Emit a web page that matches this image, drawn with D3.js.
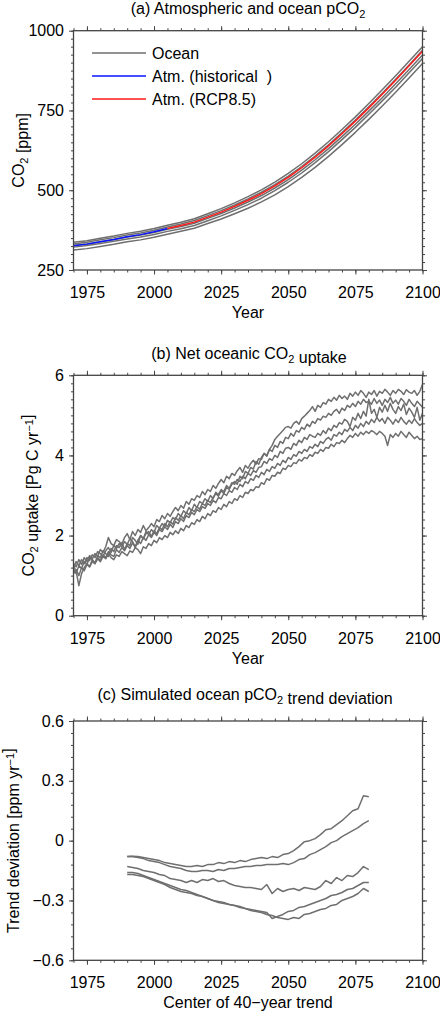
<!DOCTYPE html>
<html>
<head>
<meta charset="utf-8">
<script src="https://cdn.jsdelivr.net/npm/d3@7/dist/d3.min.js"></script>
<style>
  body { margin: 0; background: #fff; }
  svg text { font-family: "Liberation Sans", Arial, Helvetica, sans-serif; fill: #000; }
</style>
</head>
<body>
<svg id="chart" width="440" height="1013"></svg>
<script>
// ---- panel (a): atmospheric and ocean pCO2, every 5 years ----
const yearsA = d3.range(1970, 2101, 5);
const atmHistYears = [1970, 1975, 1980, 1985, 1990, 1995, 2000, 2005];
const atmHist = [325.7, 331.1, 338.7, 345.9, 354.2, 360.9, 369.7, 379.8];
const atmRcpYears = [2005, 2010, 2015, 2020, 2025, 2030, 2035, 2040, 2045, 2050,
                     2055, 2060, 2065, 2070, 2075, 2080, 2085, 2090, 2095, 2100];
const atmRcp = [379.8, 389.3, 400.1, 415.8, 431.5, 449.4, 468.5, 489.4, 513.5, 540.5,
                570.5, 603.5, 639.0, 677.1, 716.5, 758.2, 800.8, 844.8, 890.0, 935.9];
const ocean1 = [336.7, 342, 349.5, 356.5, 364.8, 371.4, 380, 390, 399.5, 410.5, 426.5, 442.5, 460.5, 480,
                501, 525.5, 553, 583, 616.5, 652, 690.5, 730, 772, 815, 859, 904, 950];
const ocean2 = [331.7, 337, 344.5, 351.5, 359.7, 366.3, 374.9, 384.8, 394.2, 404.9, 420.5, 436, 453.8, 472.8,
                493.6, 517.6, 544.5, 574.4, 607.3, 642.7, 680.7, 720, 761.6, 804, 847.8, 892.8, 938.5];
const ocean3 = [326.7, 331.6, 338.7, 345.4, 353.2, 359.4, 367.7, 377.3, 386.3, 396.6, 411.8, 427, 444.4, 463,
                483.4, 507, 533.5, 563, 595.5, 630.5, 668, 707, 748, 790, 834, 878.5, 924];
const ocean4 = [321.7, 326.6, 333.4, 340, 347.5, 353.4, 361.5, 371, 379.6, 389.7, 404.6, 419.6, 437, 455,
                475, 499, 525, 554, 586.5, 621, 658.5, 697, 738, 780, 823, 868, 913];
const ocean5 = [312.7, 317, 323.7, 330.4, 338.2, 344.4, 352.7, 362.3, 371.3, 381, 395.8, 410, 426.4, 443.5,
                463.4, 485.5, 511.5, 540, 571.5, 606, 643, 681.5, 722, 763.8, 806.8, 851.5, 897];

// ---- panel (b): net oceanic CO2 uptake, annual 1970-2100 ----
const yearsB = d3.range(1970, 2101);
const uptake1 = [
  1.20, 1.35, 1.25, 1.40, 1.30, 1.45, 1.38, 1.52, 1.45, 1.60,
  1.55, 1.48, 1.62, 1.70, 1.58, 1.75, 1.68, 1.80, 1.72, 1.85,
  1.78, 1.92, 1.85, 1.70, 1.88, 2.00, 1.92, 2.05, 2.10, 1.98,
  2.12, 2.05, 2.20, 2.15, 2.30, 2.22, 2.35, 2.28, 2.45, 2.38,
  2.50, 2.42, 2.58, 2.52, 2.65, 2.60, 2.72, 2.66, 2.80, 2.75,
  2.88, 2.82, 2.95, 3.05, 2.98, 3.12, 3.05, 3.20, 3.15, 3.28,
  3.35, 3.28, 3.48, 3.42, 3.60, 3.55, 3.70, 3.66, 3.85, 3.78,
  3.95, 4.05, 4.00, 4.15, 4.25, 4.40, 4.48, 4.55, 4.62, 4.70,
  4.72, 4.68, 4.80, 4.85, 4.78, 4.92, 4.98, 5.05, 5.12, 5.22,
  5.10, 5.25, 5.20, 5.32, 5.28, 5.40, 5.35, 5.45, 5.38, 5.50,
  5.42, 5.48, 5.40, 5.55, 5.48, 5.58, 5.50, 5.62, 5.55, 5.45,
  5.58, 5.52, 5.62, 5.48, 5.60, 5.55, 5.65, 5.58, 5.50, 5.62,
  5.55, 5.65, 5.60, 5.52, 5.64, 5.58, 5.55, 5.62, 5.50, 5.60,
  5.77];
const uptake2 = [
  1.30, 1.22, 1.40, 1.28, 1.45, 1.35, 1.50, 1.42, 1.55, 1.48,
  1.65, 1.58, 1.72, 1.95, 1.80, 1.75, 1.90, 1.85, 1.78, 1.95,
  2.05, 1.90, 2.10, 2.00, 2.15, 2.08, 2.25, 2.12, 2.20, 2.30,
  2.22, 2.40, 2.35, 2.50, 2.42, 2.55, 2.48, 2.60, 2.70, 2.62,
  2.75, 2.68, 2.85, 2.78, 2.92, 2.88, 3.00, 2.95, 3.10, 3.02,
  3.15, 3.10, 3.25, 3.18, 3.30, 3.40, 3.32, 3.48, 3.42, 3.55,
  3.50, 3.62, 3.70, 3.58, 3.75, 3.68, 3.80, 3.88, 3.78, 3.92,
  3.90, 4.05, 3.98, 4.15, 4.10, 4.25, 4.20, 4.35, 4.30, 4.45,
  4.42, 4.55, 4.48, 4.62, 4.58, 4.70, 4.65, 4.78, 4.72, 4.85,
  4.80, 4.92, 4.88, 4.98, 4.95, 5.05, 5.00, 5.10, 5.15, 5.05,
  5.18, 5.12, 5.25, 5.20, 5.30, 5.22, 5.35, 5.28, 5.40, 5.32,
  5.35, 5.28, 5.42, 5.30, 5.38, 5.25, 5.40, 5.32, 5.45, 5.30,
  5.38, 5.28, 5.42, 5.35, 5.25, 5.40, 5.30, 5.22, 5.35, 5.28,
  5.20];
const uptake3 = [
  1.15, 1.05, 1.25, 1.18, 1.35, 1.28, 1.45, 1.40, 1.30, 1.50,
  1.45, 1.62, 1.55, 1.48, 1.68, 1.60, 1.75, 1.70, 1.82, 1.65,
  1.80, 1.75, 1.95, 1.88, 1.78, 2.00, 1.92, 2.10, 2.02, 2.15,
  2.08, 2.25, 2.18, 2.30, 2.22, 2.38, 2.32, 2.45, 2.40, 2.55,
  2.48, 2.62, 2.55, 2.70, 2.62, 2.78, 2.70, 2.85, 2.80, 2.92,
  2.85, 3.00, 2.92, 3.08, 3.02, 3.15, 3.10, 3.25, 3.18, 3.32,
  3.28, 3.40, 3.35, 3.48, 3.42, 3.55, 3.50, 3.62, 3.58, 3.70,
  3.72, 3.85, 3.80, 3.92, 3.88, 4.00, 3.95, 4.10, 4.05, 4.18,
  4.20, 4.15, 4.30, 4.25, 4.38, 4.32, 4.45, 4.40, 4.52, 4.48,
  4.45, 4.55, 4.50, 4.62, 4.55, 4.68, 4.62, 4.75, 4.70, 4.82,
  4.78, 4.90, 4.85, 4.72, 4.95, 4.88, 5.05, 4.92, 5.10, 4.98,
  5.40, 5.05, 5.15, 4.95, 5.20, 5.08, 5.25, 5.10, 5.30, 5.15,
  5.05, 5.22, 5.12, 5.28, 5.02, 5.18, 5.08, 4.95, 5.20, 4.88,
  5.05];
const uptake4 = [
  1.25, 1.10, 0.75, 1.05, 1.20, 1.30, 1.22, 1.40, 1.32, 1.45,
  1.38, 1.52, 1.45, 1.60, 1.52, 1.48, 1.65, 1.58, 1.70, 1.62,
  1.75, 1.68, 1.82, 1.72, 1.88, 1.80, 1.95, 1.88, 2.02, 1.95,
  2.08, 2.00, 2.15, 2.10, 2.22, 2.15, 2.28, 2.20, 2.35, 2.30,
  2.42, 2.35, 2.50, 2.45, 2.58, 2.52, 2.65, 2.60, 2.72, 2.68,
  2.80, 2.75, 2.88, 2.82, 2.95, 2.92, 3.05, 3.00, 3.12, 3.08,
  3.20, 3.15, 3.28, 3.22, 3.35, 3.30, 3.42, 3.38, 3.50, 3.45,
  3.58, 3.52, 3.65, 3.60, 3.72, 3.68, 3.80, 3.75, 3.88, 3.82,
  3.95, 3.90, 4.02, 3.98, 4.10, 4.05, 4.15, 4.10, 4.22, 4.18,
  4.28, 4.22, 4.35, 4.30, 4.40, 4.45, 4.38, 4.52, 4.48, 4.58,
  4.52, 4.65, 4.60, 4.70, 4.62, 4.75, 4.68, 4.80, 4.72, 4.85,
  4.78, 4.90, 4.82, 4.95, 4.85, 4.92, 4.80, 4.95, 4.88, 4.78,
  4.90, 4.82, 4.95, 4.85, 4.78, 4.88, 4.80, 4.92, 4.82, 4.75,
  4.80];
const uptake5 = [
  1.05, 1.15, 1.00, 1.20, 1.12, 1.28, 1.22, 1.35, 1.30, 1.42,
  1.35, 1.48, 1.42, 1.55, 1.45, 1.40, 1.52, 1.48, 1.60, 1.55,
  1.50, 1.62, 1.58, 1.70, 1.65, 1.55, 1.72, 1.68, 1.80, 1.75,
  1.88, 1.82, 1.95, 1.90, 2.00, 1.95, 2.08, 2.02, 2.12, 2.05,
  2.18, 2.12, 2.25, 2.20, 2.32, 2.28, 2.40, 2.35, 2.48, 2.42,
  2.55, 2.50, 2.62, 2.58, 2.70, 2.65, 2.78, 2.72, 2.85, 2.80,
  2.92, 2.88, 3.00, 2.95, 3.08, 3.05, 3.15, 3.12, 3.22, 3.20,
  3.32, 3.28, 3.42, 3.38, 3.50, 3.48, 3.58, 3.55, 3.68, 3.65,
  3.75, 3.72, 3.82, 3.80, 3.90, 3.86, 3.95, 3.92, 4.02, 3.98,
  4.08, 4.05, 4.15, 4.10, 4.20, 4.18, 4.28, 4.22, 4.32, 4.30,
  4.38, 4.32, 4.42, 4.50, 4.45, 4.55, 4.48, 4.58, 4.52, 4.60,
  4.55, 4.62, 4.58, 4.52, 4.60, 4.55, 4.48, 4.25, 4.52, 4.45,
  4.55, 4.48, 4.60, 4.52, 4.45, 4.58, 4.50, 4.42, 4.48, 4.40,
  4.42];

// ---- panel (c): trend deviation, centre of 40-year trend, every 2 years ----
const yearsC = d3.range(1990, 2081, 2);
const trend1 = [-0.08, -0.078, -0.08, -0.085, -0.09, -0.095, -0.10, -0.11, -0.115, -0.12,
                -0.125, -0.13, -0.13, -0.125, -0.13, -0.12, -0.12, -0.11, -0.115, -0.105,
                -0.11, -0.10, -0.105, -0.095, -0.09, -0.085, -0.09, -0.08, -0.085, -0.07,
                -0.065, -0.05, -0.03, -0.005, 0.0, 0.01, 0.03, 0.055, 0.06, 0.08,
                0.10, 0.125, 0.15, 0.16, 0.225, 0.22];
const trend2 = [-0.08, -0.08, -0.085, -0.09, -0.10, -0.105, -0.11, -0.12, -0.13, -0.135,
                -0.14, -0.15, -0.155, -0.155, -0.15, -0.15, -0.155, -0.145, -0.15, -0.14,
                -0.14, -0.135, -0.13, -0.13, -0.125, -0.125, -0.12, -0.12, -0.12, -0.115,
                -0.12, -0.11, -0.095, -0.09, -0.07, -0.06, -0.045, -0.03, -0.01, 0.0,
                0.02, 0.035, 0.05, 0.065, 0.085, 0.10];
const trend3 = [-0.13, -0.135, -0.14, -0.15, -0.155, -0.16, -0.17, -0.175, -0.19, -0.195,
                -0.20, -0.21, -0.20, -0.21, -0.195, -0.20, -0.19, -0.205, -0.20, -0.215,
                -0.225, -0.23, -0.235, -0.235, -0.24, -0.245, -0.22, -0.265, -0.24, -0.255,
                -0.245, -0.24, -0.25, -0.235, -0.24, -0.245, -0.23, -0.20, -0.215, -0.185,
                -0.20, -0.175, -0.18, -0.16, -0.13, -0.145];
const trend4 = [-0.16, -0.16, -0.165, -0.175, -0.185, -0.195, -0.205, -0.215, -0.225, -0.235,
                -0.245, -0.25, -0.26, -0.27, -0.28, -0.29, -0.30, -0.31, -0.315, -0.32,
                -0.325, -0.33, -0.34, -0.345, -0.35, -0.355, -0.36, -0.39, -0.38, -0.37,
                -0.355, -0.35, -0.335, -0.33, -0.32, -0.31, -0.30, -0.29, -0.275, -0.27,
                -0.26, -0.245, -0.24, -0.225, -0.21, -0.21];
const trend5 = [-0.17, -0.17, -0.175, -0.18, -0.19, -0.20, -0.21, -0.22, -0.235, -0.245,
                -0.255, -0.26, -0.265, -0.275, -0.28, -0.29, -0.30, -0.305, -0.31, -0.32,
                -0.325, -0.335, -0.34, -0.35, -0.355, -0.36, -0.37, -0.375, -0.385, -0.39,
                -0.395, -0.385, -0.39, -0.37, -0.365, -0.355, -0.345, -0.34, -0.325, -0.32,
                -0.30, -0.29, -0.28, -0.265, -0.24, -0.255];

const xMajorTicks = [1975, 2000, 2025, 2050, 2075, 2100];
const xMinorTicks = d3.range(1970, 2101, 5);

const legendLabels = ['Ocean', 'Atm. (historical  )', 'Atm. (RCP8.5)'];

var config = {
  left: 73.5,
  right: 422.5,
  fontSize: 16,
  frameColor: '#444',
  grey: '#6f6f6f',
  blue: '#0a14ff',
  red: '#ff1a1a',
  lineWidth: 1.5
};

const svg = d3.select('#chart');

// small helper for texts with sub/superscripts: parts = [[text, 'sub'|'sup'|null], ...]
function richText(sel, parts) {
  parts.forEach(function (p) {
    var t = sel.append('tspan').text(p[0]);
    if (p[1] == 'sub') {
      t.attr('font-size', 11).attr('dy', 4);
      sel.append('tspan').attr('dy', -4).text('');
    } else if (p[1] == 'sup') {
      t.attr('font-size', 11).attr('dy', -5);
      sel.append('tspan').attr('dy', 5).text('');
    }
  });
  return sel;
}

function styleAxis(g) {
  g.select('.domain').remove();
  g.selectAll('.tick line').attr('stroke', config.frameColor).attr('stroke-width', 1);
  g.selectAll('.tick text')
    .attr('font-size', config.fontSize)
    .attr('font-family', '"Liberation Sans", Arial, sans-serif')
    .attr('fill', '#000');
}

function drawPanel(p) {
  const x = d3.scaleLinear().domain([1970, 2100]).range([config.left, config.right]);
  const y = d3.scaleLinear().domain(p.yDomain).range([p.bottom, p.top]);
  const g = svg.append('g');

  // data lines first, frame on top
  p.series.forEach(function (s) {
    const line = d3.line().x((d, i) => x(s.years[i])).y(d => y(d));
    g.append('path')
      .datum(s.values)
      .attr('fill', 'none')
      .attr('stroke', s.color)
      .attr('stroke-width', config.lineWidth)
      .attr('stroke-linejoin', 'round')
      .attr('d', line);
  });

  // bottom axis: minor, major with labels
  g.append('g').attr('transform', `translate(0,${p.bottom})`)
    .call(d3.axisBottom(x).tickValues(xMinorTicks).tickSize(2.5).tickFormat(''))
    .call(styleAxis);
  g.append('g').attr('transform', `translate(0,${p.bottom})`)
    .call(d3.axisBottom(x).tickValues(xMajorTicks).tickSize(4.5).tickPadding(12).tickFormat(d3.format('d')))
    .call(styleAxis);
  // top axis (ticks only)
  g.append('g').attr('transform', `translate(0,${p.top})`)
    .call(d3.axisTop(x).tickValues(xMinorTicks).tickSize(2.5).tickFormat(''))
    .call(styleAxis);
  g.append('g').attr('transform', `translate(0,${p.top})`)
    .call(d3.axisTop(x).tickValues(xMajorTicks).tickSize(4.5).tickFormat(''))
    .call(styleAxis);
  // left axis
  g.append('g').attr('transform', `translate(${config.left},0)`)
    .call(d3.axisLeft(y).tickValues(p.yMinor).tickSize(2.5).tickFormat(''))
    .call(styleAxis);
  g.append('g').attr('transform', `translate(${config.left},0)`)
    .call(d3.axisLeft(y).tickValues(p.yMajor).tickSize(4.5).tickPadding(5).tickFormat(p.yFormat))
    .call(styleAxis);
  // right axis (ticks only)
  g.append('g').attr('transform', `translate(${config.right},0)`)
    .call(d3.axisRight(y).tickValues(p.yMinor).tickSize(2.5).tickFormat(''))
    .call(styleAxis);
  g.append('g').attr('transform', `translate(${config.right},0)`)
    .call(d3.axisRight(y).tickValues(p.yMajor).tickSize(4.5).tickFormat(''))
    .call(styleAxis);

  g.append('rect')
    .attr('x', config.left).attr('y', p.top)
    .attr('width', config.right - config.left).attr('height', p.bottom - p.top)
    .attr('fill', 'none')
    .attr('stroke', config.frameColor)
    .attr('stroke-width', 1.3);

  // title
  richText(g.append('text')
    .attr('x', p.titleX).attr('y', p.top - p.titleGap)
    .attr('text-anchor', 'middle')
    .attr('font-size', config.fontSize), p.title);

  // x label
  g.append('text')
    .attr('x', (config.left + config.right) / 2).attr('y', p.bottom + 48)
    .attr('text-anchor', 'middle')
    .attr('font-size', config.fontSize)
    .text(p.xLabel);

  // y label
  richText(g.append('text')
    .attr('transform', `translate(${p.yLabelX},${(p.top + p.bottom) / 2}) rotate(-90)`)
    .attr('text-anchor', 'middle')
    .attr('font-size', config.fontSize), p.yLabel);

  return { g: g, x: x, y: y };
}

function fmtSigned(d) {
  if (d == 0) return '0';
  return (d < 0 ? '\u2212' : '') + Math.abs(d).toFixed(1);
}

// ---- panel (a) ----
const greyA = [ocean1, ocean2, ocean3, ocean4, ocean5].map(v => ({ years: yearsA, values: v, color: config.grey }));
const pa = drawPanel({
  top: 30.7, bottom: 270,
  yDomain: [250, 1000],
  yMajor: [250, 500, 750, 1000],
  yMinor: d3.range(250, 1001, 25),
  yFormat: d3.format('d'),
  series: greyA.concat([
    { years: atmHistYears, values: atmHist, color: config.blue },
    { years: atmRcpYears, values: atmRcp, color: config.red }
  ]),
  title: [['(a) Atmospheric and ocean pCO'], ['2', 'sub']],
  titleX: 248, titleGap: 17,
  xLabel: 'Year',
  yLabel: [['CO'], ['2', 'sub'], [' [ppm]']],
  yLabelX: 24
});

// legend
const legendColors = [config.grey, config.blue, config.red];
legendLabels.forEach(function (lab, i) {
  const ly = 53 + i * 23;
  pa.g.append('line')
    .attr('x1', 92).attr('x2', 146).attr('y1', ly).attr('y2', ly)
    .attr('stroke', legendColors[i]).attr('stroke-width', config.lineWidth);
  pa.g.append('text')
    .attr('x', 152).attr('y', ly + 6)
    .attr('font-size', config.fontSize)
    .style('white-space', 'pre')
    .text(lab);
});

// ---- panel (b) ----
drawPanel({
  top: 375.3, bottom: 615.7,
  yDomain: [0, 6],
  yMajor: [0, 2, 4, 6],
  yMinor: d3.range(0, 6.01, 0.2),
  yFormat: d3.format('d'),
  series: [uptake1, uptake2, uptake3, uptake4, uptake5].map(v => ({ years: yearsB, values: v, color: config.grey })),
  title: [['(b) Net oceanic CO'], ['2', 'sub'], [' uptake']],
  titleX: 249, titleGap: 16,
  xLabel: 'Year',
  yLabel: [['CO'], ['2', 'sub'], [' uptake [Pg C yr'], ['\u22121', 'sup'], [']']],
  yLabelX: 34
});

// ---- panel (c) ----
drawPanel({
  top: 721, bottom: 960.3,
  yDomain: [-0.6, 0.6],
  yMajor: [-0.6, -0.3, 0, 0.3, 0.6],
  yMinor: d3.range(-0.6, 0.601, 0.06),
  yFormat: fmtSigned,
  series: [trend1, trend2, trend3, trend4, trend5].map(v => ({ years: yearsC, values: v, color: config.grey })),
  title: [['(c) Simulated ocean pCO'], ['2', 'sub'], [' trend deviation']],
  titleX: 245, titleGap: 21,
  xLabel: 'Center of 40\u2212year trend',
  yLabel: [['Trend deviation [ppm yr'], ['\u22121', 'sup'], [']']],
  yLabelX: 19
});
</script>
</body>
</html>
